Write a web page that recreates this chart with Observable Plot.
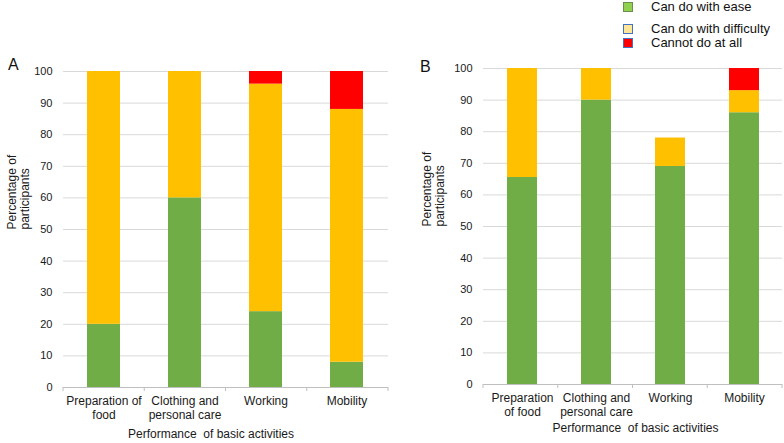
<!DOCTYPE html>
<html>
<head>
<meta charset="utf-8">
<script src="https://cdn.jsdelivr.net/npm/d3@7"></script>
<script src="https://cdn.jsdelivr.net/npm/@observablehq/plot@0.6"></script>
<style>
  body { margin: 0; background: #fff; font-family: "Liberation Sans", Arial, sans-serif; }
  #wrap { position: relative; width: 784px; height: 443px; overflow: hidden; }
  .panel { position: absolute; top: 0; }
  .tag { position: absolute; font-size: 16px; color: #111; }
  .legend { position: absolute; left: 623px; top: 0; font-size: 13px; color: #111; }
  .legend .row { position: absolute; white-space: nowrap; display: flex; align-items: center; }
  .legend .sw { width: 8px; height: 8px; margin-right: 18px; }
</style>
</head>
<body>
<div id="wrap"></div>
<script>
// categories and levels
const activities = ["Preparation of food", "Clothing and personal care", "Working", "Mobility"];
const levels = ["Can do with ease", "Can do with difficulty", "Cannot do at all"];
const levelColors = ["#70AD47", "#FFC000", "#FF0000"];
const swatchColors = ["#92D050", "#FFE699", "#FF0000"];
const swatchBorders = ["#6b8f4a", "#4472C4", "#4472C4"];

// tick labels
const tickLabelsA = ["Preparation of\nfood", "Clothing and\npersonal care", "Working", "Mobility"];
const tickLabelsB = ["Preparation\nof food", "Clothing and\npersonal care", "Working", "Mobility"];
const yTicks = [0, 10, 20, 30, 40, 50, 60, 70, 80, 90, 100];

// panel A values (%)
const easeA = [20, 60, 24, 8];
const difficultyA = [80, 40, 72, 80];
const cannotA = [0, 0, 4, 12];

// panel B values (%)
const easeB = [65.5, 90, 69, 86];
const difficultyB = [34.5, 10, 9, 7];
const cannotB = [0, 0, 0, 7];

const font = '"Liberation Sans", Arial, sans-serif';
const ink = "#1a1a1a";

function rowsOf(ease, diff, cannot) {
  let rows = [];
  [ease, diff, cannot].forEach((vals, k) => {
    activities.forEach((a, i) => rows.push({activity: a, level: levels[k], value: vals[i]}));
  });
  return rows;
}

function panel(o) {
  let labelOf = new Map(activities.map((a, i) => [a, o.ticks[i]]));
  let chart = Plot.plot({
    width: 392,
    height: 443,
    marginLeft: o.marginLeft,
    marginRight: o.marginRight,
    marginTop: o.marginTop,
    marginBottom: o.marginBottom,
    style: {fontFamily: font, fontSize: "11px", color: ink, background: "transparent", overflow: "visible"},
    x: {domain: activities, paddingInner: o.pad, paddingOuter: o.pad / 2},
    y: {domain: [0, 100]},
    color: {domain: levels, range: levelColors},
    marks: [
      Plot.gridY(yTicks, {stroke: "#d9d9d9", strokeOpacity: 1}),
      Plot.barY(rowsOf(o.ease, o.diff, o.cannot), {x: "activity", y: "value", fill: "level"}),
      Plot.ruleY([0], {stroke: "#bfbfbf"}),
      Plot.axisY(yTicks, {tickSize: 0, tickPadding: 11, label: null, fontSize: 11, fill: ink}),
      Plot.axisX({tickSize: 0, tickPadding: 8, label: null, fontSize: 12, lineHeight: 1.15, fill: ink,
        tickFormat: d => labelOf.get(d)}),
      Plot.text(["Percentage of\nparticipants"], {frameAnchor: "left", rotate: -90, dx: o.yLabelDx,
        lineAnchor: "middle", fontSize: 12, lineHeight: 1.15, fill: ink}),
      Plot.text(["Performance  of basic activities"], {frameAnchor: "bottom", dx: o.xLabelDx, dy: o.xLabelDy,
        fontSize: 12, fill: ink})
    ]
  });
  // category separators on the x axis, from the band scale range
  let xs = chart.scale("x");
  let y0 = chart.scale("y").apply(0);
  let [r0, r1] = xs.range;
  let n = activities.length;
  let bounds = d3.range(n + 1).map(i => r0 + i * (r1 - r0) / n);
  d3.select(chart).append("g").selectAll("line").data(bounds).join("line")
    .attr("x1", d => d).attr("x2", d => d)
    .attr("y1", y0).attr("y2", y0 + 4)
    .attr("stroke", "#bfbfbf");
  chart.classList.add("panel");
  chart.style.left = o.left + "px";
  return chart;
}

const wrap = d3.select("#wrap");

wrap.append(() => panel({
  left: 0, ease: easeA, diff: difficultyA, cannot: cannotA, ticks: tickLabelsA, pad: 0.59,
  marginLeft: 63, marginRight: 4, marginTop: 71, marginBottom: 56,
  yLabelDx: -45.5, xLabelDx: -15, xLabelDy: 50
}));
wrap.append(() => panel({
  left: 392, ease: easeB, diff: difficultyB, cannot: cannotB, ticks: tickLabelsB, pad: 0.6,
  marginLeft: 91, marginRight: 2, marginTop: 68, marginBottom: 59,
  yLabelDx: -50.5, xLabelDx: 2.5, xLabelDy: 47
}));

wrap.append("div").attr("class", "tag").style("left", "8px").style("top", "56px").text("A");
wrap.append("div").attr("class", "tag").style("left", "420px").style("top", "58px").text("B");

// legend
const legendTops = [7, 29, 43];
const legend = wrap.append("div").attr("class", "legend");
levels.forEach((lv, i) => {
  let row = legend.append("div").attr("class", "row")
    .style("top", (legendTops[i] - 8) + "px");
  row.append("div").attr("class", "sw")
    .style("background", swatchColors[i])
    .style("border", "1px solid " + swatchBorders[i]);
  row.append("span").text(lv);
});
</script>
</body>
</html>
